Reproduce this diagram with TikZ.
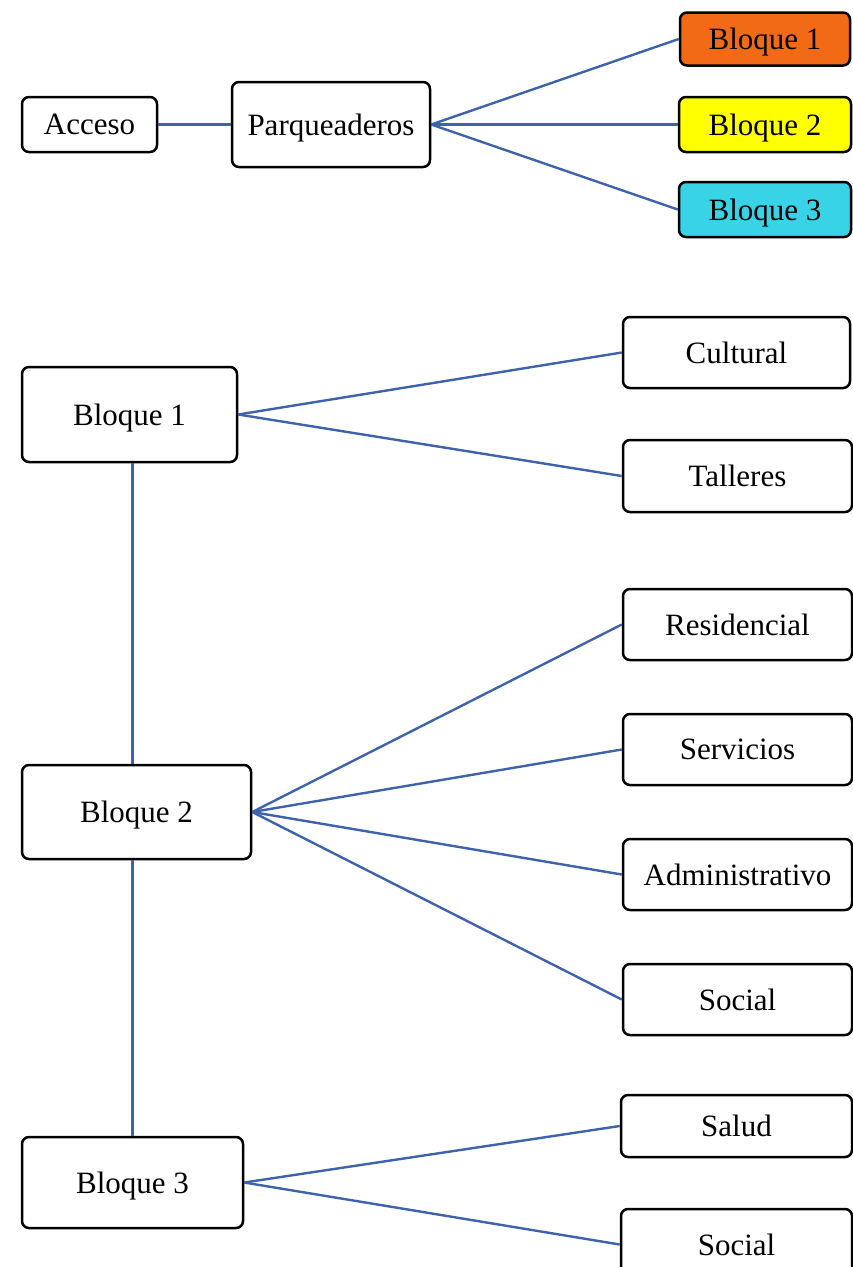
\documentclass[tikz,border=0pt]{standalone}
\usepackage{fontspec}
\setmainfont{Liberation Serif}
\usepackage{tikz}
\usetikzlibrary{positioning}
\usetikzlibrary{calc}

\definecolor{linkblue}{HTML}{3F63AB}
\definecolor{blockorange}{HTML}{F26A15}
\definecolor{blockyellow}{HTML}{FFFF00}
\definecolor{blockcyan}{HTML}{38D3E6}

\tikzset{
    zone/.style={draw=black, line width=2.5pt, rounded corners=7pt, fill=white,
        inner sep=0pt, text depth=0pt, font=\fontsize{31}{36}\selectfont},
    link/.style={draw=linkblue, line width=2.4pt}
}

\begin{document}
\begin{tikzpicture}[x=1pt, y=-1pt]
    \useasboundingbox (0,0) rectangle (852,1267);

    % access and parking
    \node [zone, minimum width=135pt, minimum height=55pt] (acc) at (89.5,124.5) {Acceso};
    \node [zone, minimum width=198pt, minimum height=85pt] (park) at (331,124.5) {Parqueaderos};

    \node [zone, fill=blockorange, minimum width=170pt, minimum height=53pt] (top1) at (765,39) {Bloque 1};
    \node [zone, fill=blockyellow, minimum width=172pt, minimum height=55pt] (top2) at (765,124.5) {Bloque 2};
    \node [zone, fill=blockcyan, minimum width=172pt, minimum height=55pt] (top3) at (765,209.5) {Bloque 3};

    \draw [link] (acc) -- (park);
    \draw [link] (park.east) -- (top1.west);
    \draw [link] (park.east) -- (top2.west);
    \draw [link] (park.east) -- (top3.west);

    % blocks
    \node [zone, minimum width=215pt, minimum height=95pt] (b1) at (129.5,414.5) {Bloque 1};
    \node [zone, minimum width=229pt, minimum height=94pt] (b2) at (136.5,812) {Bloque 2};
    \node [zone, minimum width=221pt, minimum height=91pt] (b3) at (132.5,1182.5) {Bloque 3};

    \node [zone, minimum width=227pt, minimum height=71pt] (cult) at (736.5,352.5) {Cultural};
    \node [zone, minimum width=229pt, minimum height=72pt] (tall) at (737.5,476) {Talleres};

    \node [zone, minimum width=229pt, minimum height=71pt] (resi) at (737.5,624.5) {Residencial};
    \node [zone, minimum width=229pt, minimum height=71pt] (serv) at (737.5,749.5) {Servicios};
    \node [zone, minimum width=229pt, minimum height=71pt] (admi) at (737.5,874.5) {Administrativo};
    \node [zone, minimum width=229pt, minimum height=71pt] (soc1) at (737.5,999.5) {Social};

    \node [zone, minimum width=231pt, minimum height=62pt] (salu) at (736.5,1126) {Salud};
    \node [zone, minimum width=231pt, minimum height=71pt] (soc2) at (736.5,1244.5) {Social};

    \draw [link] (b1.south -| b3.north) -- (b2.north -| b3.north);
    \draw [link] (b2.south -| b3.north) -- (b3.north);

    \draw [link] (b1.east) -- (cult.west);
    \draw [link] (b1.east) -- (tall.west);

    \draw [link] (b2.east) -- (resi.west);
    \draw [link] (b2.east) -- (serv.west);
    \draw [link] (b2.east) -- (admi.west);
    \draw [link] (b2.east) -- (soc1.west);

    \draw [link] (b3.east) -- (salu.west);
    \draw [link] (b3.east) -- (soc2.west);
\end{tikzpicture}
\end{document}
